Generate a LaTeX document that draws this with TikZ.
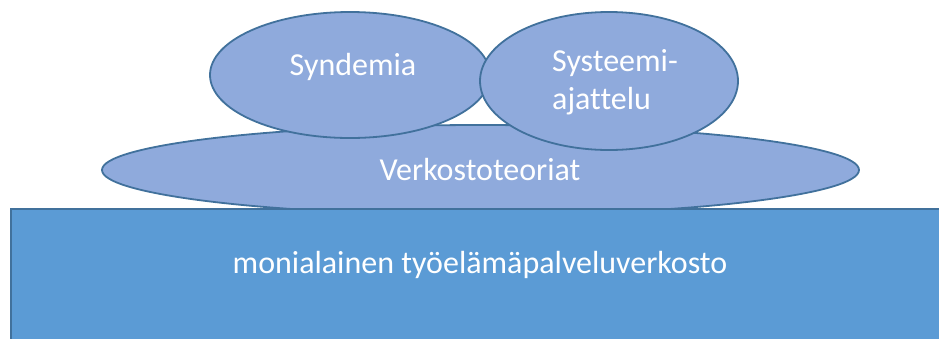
\documentclass[tikz,border=0pt]{standalone}
\usepackage{fontspec}
\setmainfont[Ligatures={NoCommon}]{Carlito}
\usetikzlibrary{shapes.geometric}
\definecolor{ellfill}{HTML}{8FAADC}
\definecolor{rectfill}{HTML}{5B9BD5}
\definecolor{edgeblue}{HTML}{41719C}
\tikzset{
  blob/.style={ellipse, draw=edgeblue, fill=ellfill, line width=1.8pt, inner sep=0pt},
  base/.style={rectangle, draw=edgeblue, fill=rectfill, line width=1.8pt, inner sep=0pt},
  lbl/.style={text=white, inner sep=0pt, font=\fontsize{32}{38}\selectfont}
}
\begin{document}
\begin{tikzpicture}[x=1pt,y=-1pt]
\useasboundingbox (0,0) rectangle (939,338);
\clip (0,0) rectangle (939,338);
\node[blob, minimum width=757pt, minimum height=90pt] (verk) at (480.5,170) {};
\node[base, minimum width=960pt, minimum height=160pt, anchor=north west] (base) at (10,208) {};
\node[lbl] (baselabel) at (480,265) {monialainen työelämäpalveluverkosto};
\node[lbl] (verklabel) at (480,170) {Verkostoteoriat};
\node[blob, minimum width=280pt, minimum height=126pt] (synd) at (350,75) {};
\node[lbl] (syndlabel) at (353,67) {Syndemia};
\node[blob, minimum width=258pt, minimum height=138pt] (syst) at (609,81) {};
\node[lbl, align=left] (systlabel) at (615,82) {Systeemi-\\ajattelu};
\end{tikzpicture}
\end{document}
